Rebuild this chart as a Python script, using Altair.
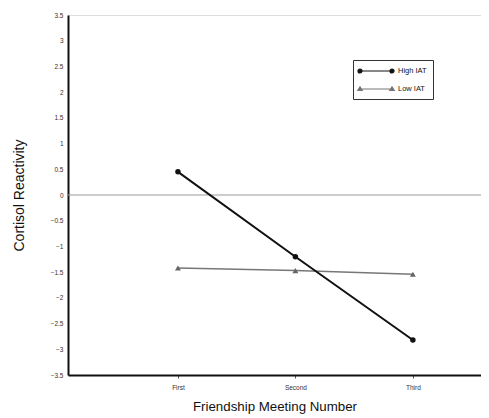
import altair as alt
import pandas as pd

meetings = [1, 2, 3]
meeting_labels = ["First", "Second", "Third"]
high_iat = [0.45, -1.20, -2.82]
low_iat = [-1.42, -1.47, -1.54]
series_names = ["High IAT", "Low IAT"]
y_ticks = [-3.5, -3, -2.5, -2, -1.5, -1, -0.5, 0, 0.5, 1, 1.5, 2, 2.5, 3, 3.5]

rows = []
for m, h, l in zip(meetings, high_iat, low_iat):
    rows.append({"meeting": m, "value": h, "series": series_names[0]})
    rows.append({"meeting": m, "value": l, "series": series_names[1]})
df = pd.DataFrame(rows)
zero_df = pd.DataFrame({"value": [0]})

FONT = "Liberation Sans"
label_expr = "datum.value == 1 ? 'First' : datum.value == 2 ? 'Second' : datum.value == 3 ? 'Third' : ''"

x_enc = alt.X(
    "meeting:Q",
    scale=alt.Scale(domain=[0.064, 3.58], nice=False, zero=False),
    axis=alt.Axis(
        values=meetings, labelExpr=label_expr, title="Friendship Meeting Number",
        grid=False, domainColor="#111", domainWidth=2, tickColor="#555", tickSize=3,
        labelFontSize=6.5, labelColor="#333", labelPadding=6, labelFont=FONT,
        titleFont=FONT, titleFontSize=13.3, titleFontWeight="normal", titleColor="#111",
        titlePadding=9,
    ),
)
y_enc = alt.Y(
    "value:Q",
    scale=alt.Scale(domain=[-3.5, 3.5], nice=False, zero=False),
    axis=alt.Axis(
        values=y_ticks, format="~g", title="Cortisol Reactivity", grid=False,
        domainColor="#111", domainWidth=2, ticks=False, labelPadding=5,
        labelFontSize=6.5, labelColor="#333", labelFont=FONT,
        titleFont=FONT, titleFontSize=14, titleFontWeight="normal", titleColor="#111",
        titlePadding=24,
    ),
)

zero_rule = alt.Chart(zero_df).mark_rule(color="#999", strokeWidth=1).encode(y=y_enc)

high = df[df.series == "High IAT"]
low = df[df.series == "Low IAT"]

high_line = alt.Chart(high).mark_line(color="#111", strokeWidth=2).encode(x=x_enc, y=y_enc)
high_pts = alt.Chart(high).mark_point(shape="circle", filled=True, color="#111", size=30, opacity=1).encode(x=x_enc, y=y_enc)
low_line = alt.Chart(low).mark_line(color="#777", strokeWidth=1.5).encode(x=x_enc, y=y_enc)
low_pts = alt.Chart(low).mark_point(shape="triangle-up", filled=True, color="#666", size=35, opacity=1).encode(x=x_enc, y=y_enc)

# symbol size 64 -> unit = 4px; path spans -4..4 units = 32px
high_path = ("M-4,0L4,0M-3.5,0A0.5,0.5,0,1,1,-4.5,0A0.5,0.5,0,1,1,-3.5,0Z"
             "M4.5,0A0.5,0.5,0,1,1,3.5,0A0.5,0.5,0,1,1,4.5,0Z")
low_path = ("M-4,0L4,0M-4,-0.55L-3.45,0.35L-4.55,0.35ZM4,-0.55L4.55,0.35L3.45,0.35Z")

leg = alt.Legend(
    title=None, orient="none", legendX=285, legendY=45,
    strokeColor="#333", padding=6, symbolSize=64, symbolStrokeWidth=1.2,
    symbolOpacity=1, symbolOffset=12, labelFontSize=7.5, labelFont=FONT, labelColor="#111",
    rowPadding=8, labelOffset=17, labelLimit=200,
)
legend_layer = alt.Chart(df).mark_point(opacity=0, filled=False).encode(
    x=x_enc, y=y_enc,
    shape=alt.Shape("series:N", scale=alt.Scale(domain=series_names, range=[high_path, low_path]), legend=leg),
    fill=alt.Fill("series:N", scale=alt.Scale(domain=series_names, range=["#111", "#666"]), legend=leg),
    stroke=alt.Stroke("series:N", scale=alt.Scale(domain=series_names, range=["#111", "#777"]), legend=leg),
)

chart = alt.layer(zero_rule, low_line, low_pts, high_line, high_pts, legend_layer).properties(
    width=413, height=360,
    autosize=alt.AutoSizeParams(type="none"),
    padding={"left": 60, "top": 7, "right": 0, "bottom": 40},
).configure_view(stroke=None).configure(background="white")

chart.save("out.html", embed_options={"renderer": "svg", "actions": False})
